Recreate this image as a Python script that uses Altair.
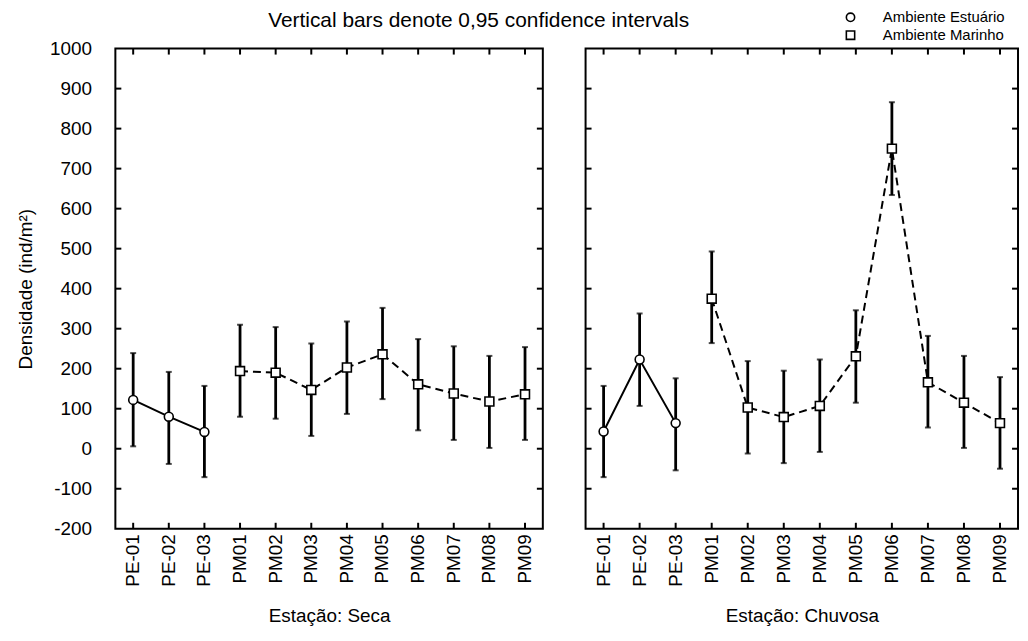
import altair as alt
import pandas as pd

stations = ["PE-01", "PE-02", "PE-03", "PM01", "PM02", "PM03",
            "PM04", "PM05", "PM06", "PM07", "PM08", "PM09"]
groups = ["Ambiente Estuário"] * 3 + ["Ambiente Marinho"] * 9
group_names = ["Ambiente Estuário", "Ambiente Marinho"]

# Estação: Seca
seca_mean = [122, 80, 42, 194, 190, 147, 203, 236, 161, 138, 118, 136]
seca_lo = [6, -38, -71, 80, 75, 32, 87, 124, 46, 22, 2, 22]
seca_hi = [239, 192, 157, 310, 304, 263, 318, 352, 274, 256, 232, 254]

# Estação: Chuvosa
chuv_mean = [43, 223, 64, 375, 103, 79, 107, 231, 750, 166, 115, 64]
chuv_lo = [-71, 107, -54, 264, -12, -36, -8, 115, 634, 53, 2, -50]
chuv_hi = [157, 338, 176, 493, 219, 195, 223, 346, 866, 282, 232, 179]

y_ticks = list(range(-200, 1001, 100))

FONT = "Liberation Sans"
H = 483


def make_df(mean, lo, hi):
    return pd.DataFrame({"station": stations, "grupo": groups,
                         "mean": mean, "lo": lo, "hi": hi})


def panel(df, title, show_y, W):
    xax = alt.Axis(title=title, labelAngle=270, ticks=False, domain=False,
                   labelFontSize=19, labelPadding=5, labelColor="black",
                   titleFontSize=19, titleFontWeight="normal", titleColor="black",
                   titlePadding=20, labelFont=FONT, titleFont=FONT)
    x = alt.X("station:N", sort=stations, scale=alt.Scale(domain=stations), axis=xax)
    yscale = alt.Scale(domain=[-200, 1000], nice=False, zero=False)
    if show_y:
        yax = alt.Axis(title="Densidade (ind/m²)", values=y_ticks, ticks=False,
                       domain=False, grid=False, labelFontSize=19, labelPadding=24,
                       labelExpr="datum.value + ''",
                       labelColor="black", titleColor="black",
                       titleFontSize=19, titleFontWeight="normal", titlePadding=14,
                       labelFont=FONT, titleFont=FONT)
    else:
        yax = None

    base = alt.Chart(df)
    bars = base.mark_rule(color="black", strokeWidth=2.8).encode(
        x=x, y=alt.Y("lo:Q", scale=yscale, axis=yax), y2="hi:Q")
    cap_hi = base.mark_tick(color="black", thickness=2, size=6, orient="horizontal").encode(
        x=x, y=alt.Y("hi:Q", scale=yscale, axis=yax))
    cap_lo = base.mark_tick(color="black", thickness=2, size=6, orient="horizontal").encode(
        x=x, y=alt.Y("lo:Q", scale=yscale, axis=yax))
    line_e = base.transform_filter(alt.datum.grupo == group_names[0]).mark_line(
        color="black", strokeWidth=2).encode(
        x=x, y=alt.Y("mean:Q", scale=yscale, axis=yax))
    line_m = base.transform_filter(alt.datum.grupo == group_names[1]).mark_line(
        color="black", strokeWidth=2, strokeDash=[8, 5]).encode(
        x=x, y=alt.Y("mean:Q", scale=yscale, axis=yax))
    pts = base.mark_point(filled=False, fill="white", fillOpacity=1,
                          strokeWidth=1.6, size=80).encode(
        x=x, y=alt.Y("mean:Q", scale=yscale, axis=yax),
        color=alt.value("black"),
        shape=alt.Shape("grupo:N", scale=alt.Scale(domain=group_names,
                        range=["circle", "square"]),
                        legend=alt.Legend(title=None, orient="none", legendX=732,
                                          legendY=-39, labelFont=FONT, labelFontSize=15,
                                          labelColor="black", symbolSize=70,
                                          symbolStrokeWidth=1.6, rowPadding=2,
                                          labelOffset=25)))

    yt = pd.DataFrame({"v": y_ticks[1:-1]})
    tick_l = alt.Chart(yt).mark_rule(color="black", strokeWidth=2).encode(
        y=alt.Y("v:Q", scale=yscale, axis=yax), x=alt.value(0), x2=alt.value(6))
    tick_r = alt.Chart(yt).mark_rule(color="black", strokeWidth=2).encode(
        y=alt.Y("v:Q", scale=yscale, axis=yax), x=alt.value(W), x2=alt.value(W - 6))
    tick_t = base.mark_rule(color="black", strokeWidth=2).encode(
        x=x, y=alt.value(0), y2=alt.value(6))
    tick_b = base.mark_rule(color="black", strokeWidth=2).encode(
        x=x, y=alt.value(H), y2=alt.value(H - 6))

    return alt.layer(tick_l, tick_r, tick_t, tick_b, bars, cap_hi, cap_lo,
                     line_e, line_m, pts).properties(width=W, height=H)


left = panel(make_df(seca_mean, seca_lo, seca_hi), "Estação: Seca", True, 430)
right = panel(make_df(chuv_mean, chuv_lo, chuv_hi), "Estação: Chuvosa", False, 435)

chart = alt.hconcat(left, right, spacing=39).properties(
    title=alt.TitleParams("Vertical bars denote 0,95 confidence intervals", font=FONT,
                          fontSize=21, fontWeight="normal", color="black",
                          anchor="start", dx=254, offset=-21),
    padding={"left": 7, "top": 0, "right": 0, "bottom": 0},
).configure(background="white").configure_view(stroke="black", strokeWidth=2)

chart.save("out.html", embed_options={"renderer": "svg", "actions": False})
